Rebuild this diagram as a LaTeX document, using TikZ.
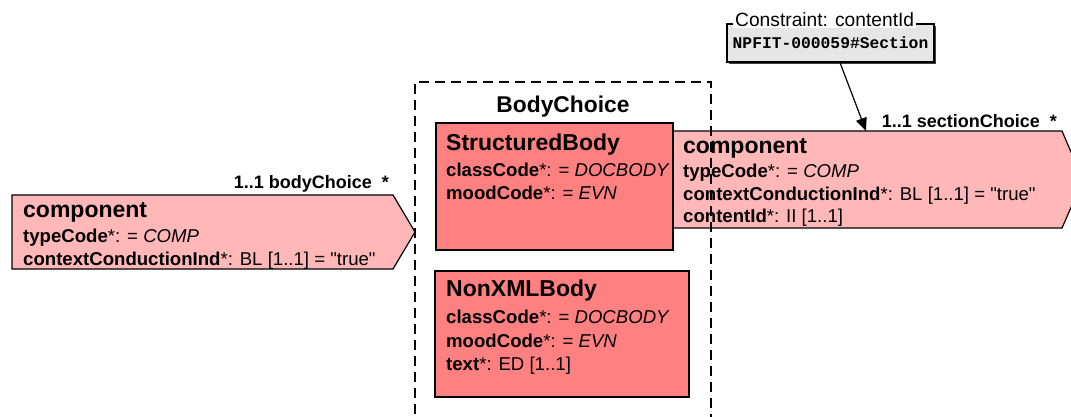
\documentclass[tikz,border=0pt]{standalone}
\usepackage{fontspec}
\setmainfont{Liberation Sans}
\setmonofont{Liberation Mono}
\usetikzlibrary{arrows.meta,shadows}
\definecolor{assocpink}{RGB}{255,183,183}
\definecolor{actred}{RGB}{255,128,128}
\definecolor{cnstgray}{RGB}{230,230,230}
\newcommand{\headfont}{\fontsize{23}{27}\selectfont\bfseries}
\newcommand{\attrfont}{\fontsize{18.6}{22}\selectfont}
\newcommand{\attr}[2]{\textbf{#1}*: #2}
\font\quotefont="Liberation Sans" at 18.6pt
\newcommand{\sq}{{\quotefont\char34}}

\begin{document}
\begin{tikzpicture}[x=1pt,y=-1pt,
    head/.style={anchor=base west, inner sep=0pt, font=\headfont},
    line/.style={anchor=base west, inner sep=0pt, font=\attrfont},
    rolename/.style={inner sep=0pt, font=\fontsize{18}{21}\selectfont\bfseries},
    outline/.style={draw=black, line width=1.2pt},
    choicebox/.style={draw=black, line width=1.4pt, dash pattern=on 10pt off 6pt}]
  \useasboundingbox (0,0) rectangle (1071,416);

  \coordinate (lcTip) at (415,232);
  \coordinate (rcIn) at (866,131);
  \draw[outline, fill=assocpink] (12,195) -- (393,195) -- (lcTip) -- (393,269) -- (12,269) -- cycle;
  \draw[outline, fill=assocpink] (672,131) -- (rcIn) -- (1062,131) -- (1083,180) -- (1062,228) -- (672,228) -- cycle;

  \node[rolename, anchor=base east] (bodyrole) at (389,188) {1..1 bodyChoice\hspace{10pt}*};
  \node[head] (lcname) at (23,217) {component};
  \node[line] (lctype) at (23,242.7) {\attr{typeCode}{= \textit{COMP}}};
  \node[line] (lcctx) at (23,265) {\attr{contextConductionInd}{BL [1..1] = \sq true\sq}};

  \node[rolename, anchor=base east] (sectrole) at (1057,127) {1..1 sectionChoice\hspace{10pt}*};
  \node[head] (rcname) at (683,153) {component};
  \node[line] (rctype) at (683,177) {\attr{typeCode}{= \textit{COMP}}};
  \node[line] (rcctx) at (683,200) {\attr{contextConductionInd}{BL [1..1] = \sq true\sq}};
  \node[line] (rccid) at (683,222) {\attr{contentId}{II [1..1]}};

  \draw[outline, fill=actred] (436,123) rectangle (673,250);
  \node[head] (sbname) at (446,150) {StructuredBody};
  \node[line] (sbclass) at (446,176) {\attr{classCode}{= \textit{DOCBODY}}};
  \node[line] (sbmood) at (446,199) {\attr{moodCode}{= \textit{EVN}}};

  \draw[outline, fill=actred] (435,271) rectangle (689,397);
  \node[head] (nxname) at (446,296) {NonXMLBody};
  \node[line] (nxclass) at (446,323) {\attr{classCode}{= \textit{DOCBODY}}};
  \node[line] (nxmood) at (446,347) {\attr{moodCode}{= \textit{EVN}}};
  \node[line] (nxtext) at (446,370) {\attr{text}{ED [1..1]}};

  \draw[choicebox] (415,430) -- (415,82) -- (711,82) -- (711,430);
  \node[font=\fontsize{22.8}{26}\selectfont\bfseries, anchor=base, inner sep=0pt] (choicename) at (563,112) {BodyChoice};

  \node[outline, fill=cnstgray, minimum width=207pt, minimum height=38pt, inner sep=0pt,
    drop shadow={shadow xshift=1.5pt, shadow yshift=-1.5pt, fill=black!75, opacity=1},
    font=\fontsize{16.3}{19}\selectfont\ttfamily\bfseries] (cnst) at (830.5,43) {NPFIT-000059\#Section};
  \node[anchor=base west, fill=white, inner sep=2pt, font=\fontsize{19.2}{22}\selectfont] (cnsttitle) at (733,26) {Constraint: contentId};
  \draw[line width=1.2pt, -{Triangle[length=13pt,width=11pt]}] ([xshift=9.5pt]cnst.south) -- (rcIn);
\end{tikzpicture}
\end{document}
